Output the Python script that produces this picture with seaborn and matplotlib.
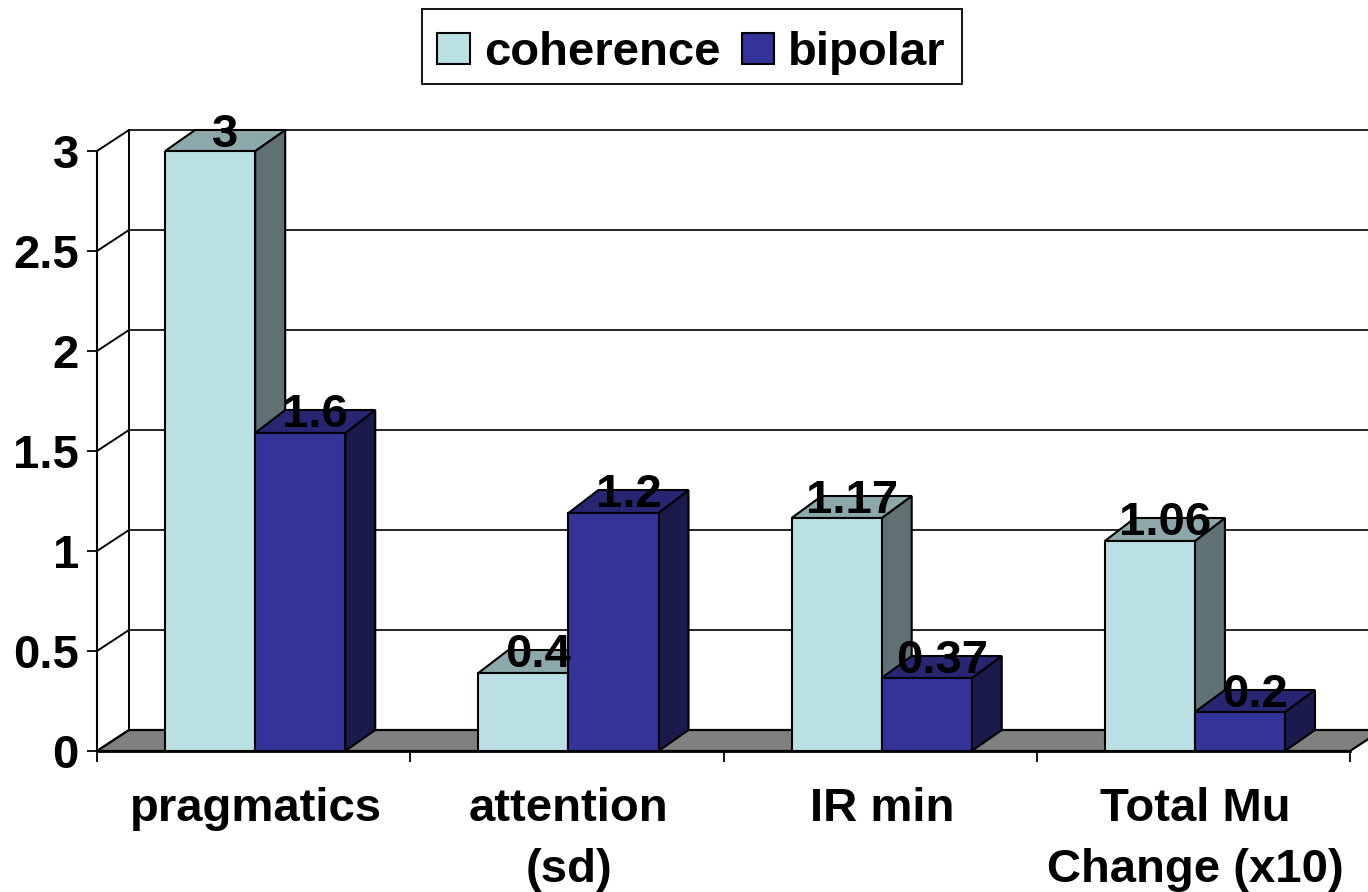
import pandas as pd
import matplotlib.pyplot as plt
from matplotlib.patches import Polygon, Rectangle
import seaborn as sns

# front faces, printed values give the back edge of each top
categories = ['pragmatics', 'attention\n(sd)', 'IR min', 'Total Mu\nChange (x10)']
coherence = [3.0, 0.39, 1.165, 1.05]
bipolar = [1.59, 1.19, 0.365, 0.195]
coherence_labels = ['3', '0.4', '1.17', '1.06']
bipolar_labels = ['1.6', '1.2', '0.37', '0.2']
y_ticks = [0, 0.5, 1, 1.5, 2, 2.5, 3]
y_ticklabels = ['0', '0.5', '1', '1.5', '2', '2.5', '3']

df = pd.DataFrame({
    'category': categories * 2,
    'series': ['coherence'] * 4 + ['bipolar'] * 4,
    'value': coherence + bipolar,
})

sns.set_theme(style='white')
plt.rcParams['font.family'] = ['Liberation Sans', 'DejaVu Sans']
plt.rcParams['font.weight'] = 'bold'
FS = 34

W, H = 1368, 892
fig = plt.figure(figsize=(W / 100, H / 100), dpi=100)
ax = fig.add_axes([97 / W, (H - 751) / H, 1253 / W, 600 / H])

colors = {'coherence': '#BBE0E3', 'bipolar': '#333399'}
sides = {'coherence': '#5F7173', 'bipolar': '#1A1A4D'}
tops = {'coherence': '#8DA8AA', 'bipolar': '#262673'}

sns.barplot(data=df, x='category', y='value', hue='series', palette=colors,
            hue_order=['coherence', 'bipolar'], width=0.575, gap=0, saturation=1,
            edgecolor='black', linewidth=1.5, ax=ax)

ax.set_xlim(-0.5, 3.5)
ax.set_ylim(0, 3)
ax.set_xlabel('')
ax.set_ylabel('')

# depth of the fake 3d box, in data units
DX = 32 / (1253 / 4)
DY = 21 / 200
BAR_DX = 30 / (1253 / 4)
x0, x1 = ax.get_xlim()

# back wall and grid
for y in y_ticks:
    if y > 0:
        ax.plot([x0 + DX, x1 + DX], [y + DY, y + DY], color='black', lw=1.2,
                clip_on=False, zorder=1)
    ax.plot([x0, x0 + DX], [y, y + DY], color='black', lw=1.4, clip_on=False, zorder=1)
ax.plot([x0 + DX, x0 + DX], [DY, 3 + DY], color='black', lw=1.4, clip_on=False, zorder=1)

# floor
ax.add_patch(Polygon([(x0, 0), (x0 + DX, DY), (x1 + DX, DY), (x1, 0)], closed=True,
                     facecolor='#808080', edgecolor='black', lw=1.6,
                     clip_on=False, zorder=1.5))

# bars left to right, each with its top and side
labels = coherence_labels + bipolar_labels
bars = []
for i, name in enumerate(['coherence', 'bipolar']):
    for j, bar in enumerate(ax.containers[i]):
        bars.append((bar, name, labels[i * 4 + j]))
bars.sort(key=lambda b: b[0].get_x())

for k, (bar, name, txt) in enumerate(bars):
    bar.set_x(bar.get_x() + 0.005)
    bx, bw, bh = bar.get_x(), bar.get_width(), bar.get_height()
    back = float(txt) + DY
    z = 2 + k
    bar.set_zorder(z + 0.5)
    ax.add_patch(Polygon([(bx + bw, 0), (bx + bw + BAR_DX, DY), (bx + bw + BAR_DX, back), (bx + bw, bh)],
                         closed=True, facecolor=sides[name], edgecolor='black', lw=1.5,
                         clip_on=False, zorder=z))
    ax.add_patch(Polygon([(bx, bh), (bx + BAR_DX, back), (bx + bw + BAR_DX, back), (bx + bw, bh)],
                         closed=True, facecolor=tops[name], edgecolor='black', lw=1.5,
                         clip_on=False, zorder=z))
    # data label
    ax.annotate(txt, xy=(bx + bw / 2, float(txt)),
                xytext=(15, 4), textcoords='offset pixels', ha='center', va='baseline',
                fontsize=FS, fontweight='bold', color='black', zorder=50,
                annotation_clip=False)

# axes
sns.despine(ax=ax, top=True, right=True)
ax.spines['left'].set_linewidth(1.5)
ax.spines['left'].set_color('black')
ax.spines['bottom'].set_linewidth(2)
ax.spines['bottom'].set_color('black')
ax.spines['bottom'].set_zorder(40)
ax.spines['left'].set_zorder(40)

ax.set_yticks(y_ticks)
ax.set_yticklabels(y_ticklabels, fontsize=FS, fontweight='bold', color='black')
ax.tick_params(axis='y', left=True, length=7, width=1.3, pad=6, color='black')
ax.set_xticks([-0.5, 0.5, 1.5, 2.5, 3.5])
ax.set_xticklabels([])
ax.tick_params(axis='x', bottom=True, length=8, width=1.3, color='black')
for i, cat in enumerate(categories):
    ax.annotate(cat, xy=(i, 0), xytext=(2, -36), textcoords='offset pixels',
                ha='center', va='top', fontsize=FS, fontweight='bold', color='black',
                linespacing=1.5, annotation_clip=False)

# legend frame drawn on its own so the entries can sit low in the box
fig.add_artist(Rectangle((421.5 / W, 1 - 83.5 / H), 540 / W, 74 / H, transform=fig.transFigure,
                         facecolor='white', edgecolor='black', lw=1.3, zorder=-1))
handles, names = ax.get_legend_handles_labels()
leg = ax.legend(handles, names, loc='center', bbox_to_anchor=(691.5 / W, 1 - 53 / H),
                bbox_transform=fig.transFigure, ncol=2, fontsize=FS, frameon=False,
                labelcolor='black', title=None,
                handlelength=0.69, handleheight=0.64, handletextpad=0.3,
                columnspacing=0.45, borderpad=0.3, borderaxespad=0)
leg.set_zorder(60)

fig.savefig('out.png', dpi=100, facecolor='white')
